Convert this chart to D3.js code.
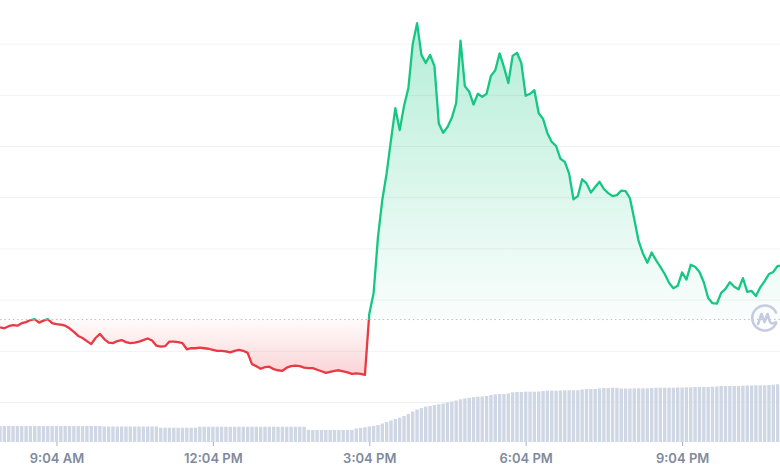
<!DOCTYPE html>
<html>
<head>
<meta charset="utf-8">
<script src="https://cdn.jsdelivr.net/npm/d3@7/dist/d3.min.js"></script>
<style>
  html, body { margin: 0; padding: 0; background: #ffffff; }
  svg { display: block; }
  .xaxis text { font-family: Inter, "Noto Sans", sans-serif; font-size: 13px; font-weight: 600; fill: #808a9d; }
</style>
</head>
<body>
<svg id="chart" width="780" height="470"></svg>
<script>
// ---------- data ----------
const startTime = new Date(2024, 0, 15, 7, 59);   // first 5-minute sample
const stepMinutes = 5;
const openPrice = 116.1;

const prices = [
  114.6,114.4,114.8,115.0,114.9,115.4,115.6,116.0,116.2,115.5,
  115.9,116.2,115.4,115.2,115.1,114.9,114.4,113.7,112.9,112.5,
  111.9,111.3,112.5,113.3,112.3,111.6,111.5,111.9,112.1,111.7,
  111.5,111.6,111.8,112.1,112.4,112.0,111.0,110.8,110.9,111.8,
  111.8,111.7,111.5,110.3,110.5,110.5,110.6,110.5,110.4,110.2,
  110.0,110.0,109.9,109.7,110.0,110.2,110.0,109.6,107.4,107.0,
  106.5,106.8,106.9,106.4,106.2,106.1,106.7,107.0,107.1,107.0,
  106.7,106.6,106.6,106.3,106.0,105.7,105.9,106.1,106.2,106.0,
  105.8,105.5,105.6,105.5,105.3,117.2,121.3,132.2,139.5,144.7,
  151.2,157.4,153.1,157.8,161.3,169.9,174.0,167.8,166.2,167.8,
  165.6,154.4,152.6,153.7,155.5,158.4,170.6,161.7,160.6,158.1,
  160.2,159.6,160.2,163.7,164.8,168.1,165.4,162.3,167.6,168.2,
  166.2,159.8,160.2,160.9,156.4,155.3,152.5,150.8,150.0,147.5,
  146.9,144.6,139.6,140.2,143.5,142.7,140.9,142.0,143.0,141.6,
  140.8,140.2,140.4,141.3,141.2,139.8,135.7,131.4,129.0,127.2,
  129.2,127.7,126.4,125.0,123.3,122.2,122.7,125.3,123.9,126.8,
  126.4,125.4,123.4,120.3,119.3,119.2,121.3,122.1,123.4,122.5,
  122.0,124.2,121.5,121.7,120.7,122.4,123.6,125.0,125.4,126.6,
  126.6
];

const volumes = [
  16,16,16,16,16,16,16,16,16,16,
  16,16,16,16,16,16,16,16,16,16,
  16,16,16,16,15.5,15.5,15.5,15.5,15.5,15.5,
  15.5,15.5,15.5,15.5,15.5,15.5,15.5,14.3,14.3,14.3,
  14.3,14.3,14.3,14.3,14.3,14.3,15.3,15.3,15.3,15.3,
  15.3,15.3,15.3,15.3,15.3,15.3,15.3,15.3,15.3,15.3,
  15.3,15.3,15.3,15.3,15.3,15.3,15.3,15.3,15.3,15.3,
  15.3,12,12,12,12,12,12,12,12,12,
  12,12,13.5,14,14.7,15.5,16,17,18.5,20,
  21.5,23,24.3,26,28,30.5,32.5,34,35.5,36,
  37,37.7,38.5,39.7,40.5,41.5,42.7,43.5,44.3,44.8,
  45.3,45.5,46,47,47.7,48,48,48.5,49.7,50,
  50,50.3,50.3,50.3,50.5,51,51.3,51.3,51.3,51.5,
  51.7,51.7,51.7,51.7,52.5,53,53,53,53.5,54,
  54,54.3,54,53.5,53.5,53.5,53.7,53.7,53.7,53.7,
  54,54.3,54.3,54.3,54.3,54.3,54.5,54.5,54.7,54.7,
  55,55,55,55,55.3,55.5,56,56,56,56,
  56,56.3,56.5,56.5,56.7,56.7,56.7,57,57.3,57.7,
  57.7
];

const gridValues = [100, 110, 120, 130, 140, 150, 160, 170];
const tickLabels = ["9:04 AM", "12:04 PM", "3:04 PM", "6:04 PM", "9:04 PM"];
const tickIndices = [13, 49, 85, 121, 157];

// ---------- build ----------
const times = prices.map((_, i) => new Date(startTime.getTime() + i * stepMinutes * 60000));
const data = prices.map((p, i) => ({ t: times[i], p, v: volumes[i] }));

const W = 780, H = 470;
const svg = d3.select("#chart");

const x = d3.scaleTime().domain([times[0], times[times.length - 1]]).range([0, 782]);
const y = d3.scaleLinear().domain([100, 170]).range([402, 43.6]);
const yv = d3.scaleLinear().domain([0, 60]).range([442, 382]);

const defs = svg.append("defs");
const yOpen = y(openPrice);
const gUp = defs.append("linearGradient").attr("id", "gUp").attr("gradientUnits", "userSpaceOnUse")
  .attr("x1", 0).attr("x2", 0).attr("y1", y(d3.max(prices))).attr("y2", yOpen);
gUp.append("stop").attr("offset", 0).attr("stop-color", "#16c784").attr("stop-opacity", 0.32);
gUp.append("stop").attr("offset", 1).attr("stop-color", "#16c784").attr("stop-opacity", 0.02);
const gDn = defs.append("linearGradient").attr("id", "gDn").attr("gradientUnits", "userSpaceOnUse")
  .attr("x1", 0).attr("x2", 0).attr("y1", yOpen).attr("y2", y(d3.min(prices)));
gDn.append("stop").attr("offset", 0).attr("stop-color", "#ea3943").attr("stop-opacity", 0.02);
gDn.append("stop").attr("offset", 1).attr("stop-color", "#ea3943").attr("stop-opacity", 0.22);

defs.append("clipPath").attr("id", "clipUp").append("rect")
  .attr("x", -10).attr("y", -10).attr("width", W + 20).attr("height", yOpen + 10);
defs.append("clipPath").attr("id", "clipDn").append("rect")
  .attr("x", -10).attr("y", yOpen).attr("width", W + 20).attr("height", H);

// gridlines
svg.append("g").selectAll("line").data(gridValues).join("line")
  .attr("x1", 0).attr("x2", W)
  .attr("y1", d => y(d) + 0.5).attr("y2", d => y(d) + 0.5)
  .attr("stroke", "#eff2f5").attr("stroke-width", 1);

// volume bars
svg.append("g").selectAll("rect").data(data).join("rect")
  .attr("x", d => x(d.t) - 1.7)
  .attr("y", d => yv(d.v))
  .attr("width", 3.4)
  .attr("height", d => yv(0) - yv(d.v))
  .attr("fill", "#cfd6e4");

// areas
const area = d3.area().x(d => x(d.t)).y0(yOpen).y1(d => y(d.p));
svg.append("path").datum(data).attr("d", area).attr("fill", "url(#gUp)").attr("clip-path", "url(#clipUp)");
svg.append("path").datum(data).attr("d", area).attr("fill", "url(#gDn)").attr("clip-path", "url(#clipDn)");

// open price dotted line
svg.append("line").attr("x1", 0).attr("x2", W).attr("y1", yOpen).attr("y2", yOpen)
  .attr("stroke", "#b8bfcc").attr("stroke-width", 1).attr("stroke-dasharray", "1.5,2.8");

// price line
const line = d3.line().x(d => x(d.t)).y(d => y(d.p));
svg.append("path").datum(data).attr("d", line).attr("fill", "none")
  .attr("stroke", "#16c784").attr("stroke-width", 2.3).attr("stroke-linejoin", "round")
  .attr("clip-path", "url(#clipUp)");
svg.append("path").datum(data).attr("d", line).attr("fill", "none")
  .attr("stroke", "#ea3943").attr("stroke-width", 2.3).attr("stroke-linejoin", "round")
  .attr("clip-path", "url(#clipDn)");

// x axis
const tickTimes = tickIndices.map(i => times[i]);
const xAxis = d3.axisBottom(x).tickValues(tickTimes)
  .tickFormat((d, i) => tickLabels[i]).tickSize(4).tickPadding(8);
const gx = svg.append("g").attr("class", "xaxis").attr("transform", "translate(0,442)").call(xAxis);
gx.select(".domain").remove();
gx.selectAll(".tick line").attr("stroke", "#a6b0c3");

// watermark logo
const lg = svg.append("g").attr("transform", "translate(765,318)")
  .attr("fill", "none").attr("stroke", "#c5cbe0").attr("stroke-width", 2.6)
  .attr("stroke-linecap", "round").attr("stroke-linejoin", "round");
lg.append("path").attr("d", "M 11 -5.5 A 12.5 12.5 0 1 0 11 5.5");
lg.append("path").attr("d", "M -7 6 L -3.5 -4 L -0.5 4 L 2.5 -4 L 5 4 Q 7 7 11 4");
</script>
</body>
</html>
